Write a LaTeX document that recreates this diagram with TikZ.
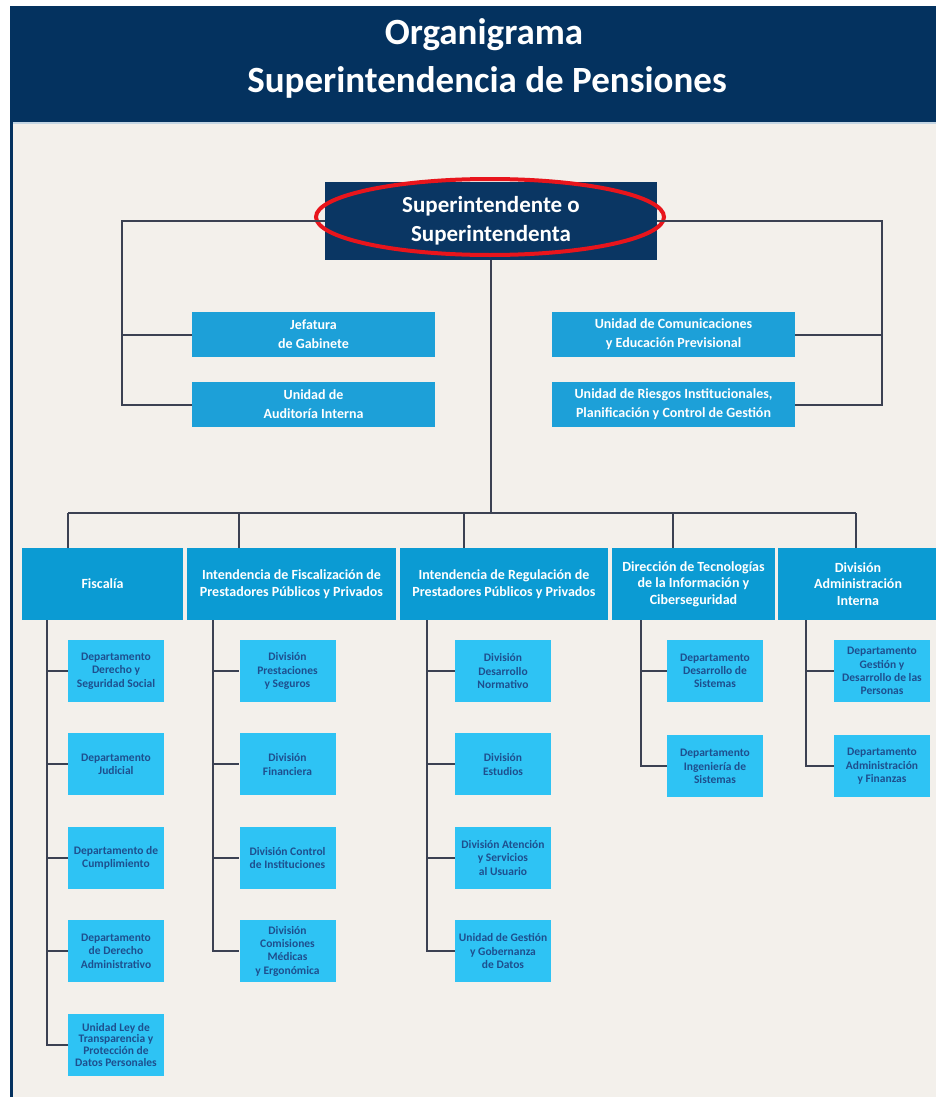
\documentclass[tikz,border=0pt]{standalone}
\usepackage{fontspec}
\setmainfont{Carlito}
\usetikzlibrary{positioning,shapes.geometric}
\definecolor{HeadNavy}{HTML}{04325F}
\definecolor{ChiefNavy}{HTML}{0A3663}
\definecolor{PaperBeige}{HTML}{F3F0EB}
\definecolor{FrameLine}{HTML}{C4D6E4}
\definecolor{StaffBlue}{HTML}{1DA0D8}
\definecolor{UnitBlue}{HTML}{0B9BD3}
\definecolor{SubCyan}{HTML}{2EC3F4}
\definecolor{SubText}{HTML}{1E4F8E}
\definecolor{LinkGrey}{HTML}{3B4152}
\definecolor{MarkRed}{HTML}{E8151C}

\begin{document}
\begin{tikzpicture}[x=1pt,y=-1pt,node distance=31pt,
  link/.style={draw=LinkGrey,line width=2pt},
  chief/.style={fill=ChiefNavy,text=white,font=\bfseries\fontsize{23}{29}\selectfont,minimum width=332pt,minimum height=78pt,align=center,inner sep=0pt},
  staffbox/.style={fill=StaffBlue,text=white,font=\bfseries\fontsize{14}{19}\selectfont,minimum width=243pt,minimum height=45pt,align=center,inner sep=0pt},
  unitbox/.style={fill=UnitBlue,text=white,font=\bfseries\fontsize{14}{16.5}\selectfont,minimum height=72pt,align=center,inner sep=0pt},
  subbox/.style={fill=SubCyan,text=SubText,font=\bfseries\fontsize{11.5}{13.3}\selectfont,minimum width=96pt,minimum height=62pt,align=center,inner sep=0pt}]
  \useasboundingbox (0,0) rectangle (936,1097);

  % page, header band and frame
  \fill[white] (0,0) rectangle (936,1097);
  \fill[PaperBeige] (10,122) rectangle (936,1097);
  \fill[HeadNavy] (10,6) rectangle (936,122);
  \draw[FrameLine,line width=2pt] (10,123.5) -- (936,123.5);
  \draw[HeadNavy,line width=3pt] (11.5,122) -- (11.5,1097);
  \node[text=white,font=\bfseries\fontsize{37}{37}\selectfont] (title1) at (484,35) {Organigrama};
  \node[text=white,font=\bfseries\fontsize{37}{37}\selectfont] (title2) at (487,82) {Superintendencia de Pensiones};

  % head of the office and staff units
  \node[chief] (sup) at (491,221) {Superintendente o\\Superintendenta};
  \node[draw=MarkRed,line width=4pt,ellipse,minimum width=348pt,minimum height=76pt] (mark) at (490,217) {};
  \node[staffbox] (jef) at (313.5,334.5) {Jefatura\\de Gabinete};
  \node[staffbox] (aud) at (313.5,404.5) {Unidad de\\Auditoría Interna};
  \node[staffbox] (com) at (673.5,334.5) {Unidad de Comunicaciones\\y Educación Previsional};
  \node[staffbox] (rie) at (673.5,404.5) {Unidad de Riesgos Institucionales,\\Planificación y Control de Gestión};
  \coordinate (lrail) at (122,221);
  \coordinate (rrail) at (882,221);
  \draw[link] (sup.west) -- (lrail) |- (aud.west);
  \draw[link] (lrail |- jef.west) -- (jef.west);
  \draw[link] (sup.east) -- (rrail) |- (rie.east);
  \draw[link] (rrail |- com.east) -- (com.east);

  % line units
  \node[unitbox,minimum width=161pt] (fis) at (102.5,584) {Fiscalía};
  \node[unitbox,minimum width=209pt] (fzn) at (291.5,584) {Intendencia de Fiscalización de\\Prestadores Públicos y Privados};
  \node[unitbox,minimum width=208pt] (reg) at (504,584) {Intendencia de Regulación de\\Prestadores Públicos y Privados};
  \node[unitbox,minimum width=163pt] (tec) at (693.5,584) {Dirección de Tecnologías\\de la Información y\\Ciberseguridad};
  \node[unitbox,minimum width=160pt] (adm) at (858,584) {División\\Administración\\Interna};
  \coordinate (d1) at (68,513);
  \coordinate (d2) at (239,513);
  \coordinate (d3) at (464,513);
  \coordinate (d4) at (673,513);
  \coordinate (d5) at (856,513);
  \draw[link] (sup.south) -- (sup.south |- d1);
  \draw[link] (d1) -- (d5);
  \draw[link] (d1) -- (d1 |- fis.north);
  \draw[link] (d2) -- (d2 |- fzn.north);
  \draw[link] (d3) -- (d3 |- reg.north);
  \draw[link] (d4) -- (d4 |- tec.north);
  \draw[link] (d5) -- (d5 |- adm.north);

  % Fiscalía
  \node[subbox] (f1) at (116,671) {Departamento\\Derecho y\\Seguridad Social};
  \node[subbox,below=of f1] (f2) {Departamento\\Judicial};
  \node[subbox,below=of f2] (f3) {Departamento de\\Cumplimiento};
  \node[subbox,below=of f3] (f4) {Departamento\\de Derecho\\Administrativo};
  \node[subbox,below=of f4,font=\bfseries\fontsize{11.5}{11.7}\selectfont] (f5) {Unidad Ley de\\Transparencia y\\Protección de\\Datos Personales};
  \coordinate (fisS) at (47,620);
  \draw[link] (fisS) |- (f5.west);
  \draw[link] (fisS |- f1.west) -- (f1.west);
  \draw[link] (fisS |- f2.west) -- (f2.west);
  \draw[link] (fisS |- f3.west) -- (f3.west);
  \draw[link] (fisS |- f4.west) -- (f4.west);

  % Intendencia de Fiscalización
  \node[subbox] (z1) at (287.5,671) {División\\Prestaciones\\y Seguros};
  \node[subbox,below=of z1] (z2) {División\\Financiera};
  \node[subbox,below=of z2] (z3) {División Control\\de Instituciones};
  \node[subbox,below=of z3] (z4) {División\\Comisiones\\Médicas\\y Ergonómica};
  \coordinate (fznS) at (213,620);
  \draw[link] (fznS) |- (z4.west);
  \draw[link] (fznS |- z1.west) -- (z1.west);
  \draw[link] (fznS |- z2.west) -- (z2.west);
  \draw[link] (fznS |- z3.west) -- (z3.west);

  % Intendencia de Regulación
  \node[subbox] (r1) at (503,671) {División\\Desarrollo\\Normativo};
  \node[subbox,below=of r1] (r2) {División\\Estudios};
  \node[subbox,below=of r2] (r3) {División Atención\\y Servicios\\al Usuario};
  \node[subbox,below=of r3] (r4) {Unidad de Gestión\\y Gobernanza\\de Datos};
  \coordinate (regS) at (427,620);
  \draw[link] (regS) |- (r4.west);
  \draw[link] (regS |- r1.west) -- (r1.west);
  \draw[link] (regS |- r2.west) -- (r2.west);
  \draw[link] (regS |- r3.west) -- (r3.west);

  % Tecnologías de la Información
  \node[subbox] (t1) at (715,671) {Departamento\\Desarrollo de\\Sistemas};
  \node[subbox,below=33pt of t1] (t2) {Departamento\\Ingeniería de\\Sistemas};
  \coordinate (tecS) at (641,620);
  \draw[link] (tecS) |- (t2.west);
  \draw[link] (tecS |- t1.west) -- (t1.west);

  % Administración Interna
  \node[subbox] (a1) at (882,671) {Departamento\\Gestión y\\Desarrollo de las\\Personas};
  \node[subbox,below=33pt of a1] (a2) {Departamento\\Administración\\y Finanzas};
  \coordinate (admS) at (806,620);
  \draw[link] (admS) |- (a2.west);
  \draw[link] (admS |- a1.west) -- (a1.west);
\end{tikzpicture}
\end{document}
